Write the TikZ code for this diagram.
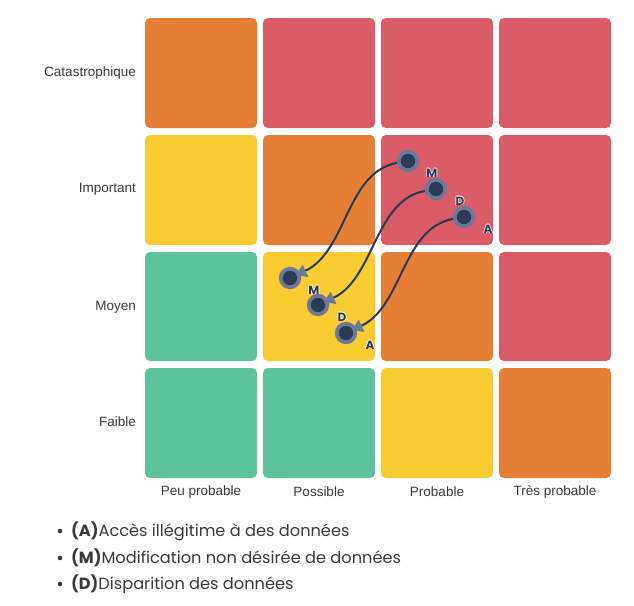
\documentclass[tikz,border=0pt]{standalone}
\usepackage{fontspec}
\setmainfont{Liberation Sans}
\newfontfamily\poppins{Poppins}
\usetikzlibrary{arrows.meta}
\definecolor{rOrange}{HTML}{E47F35}
\definecolor{rRed}{HTML}{DA5C68}
\definecolor{rYellow}{HTML}{F9CC31}
\definecolor{rGreen}{HTML}{5DC39D}
\definecolor{dotDark}{HTML}{2C3B55}
\definecolor{dotRing}{HTML}{6E7898}
\definecolor{axisTxt}{HTML}{3A3A3A}
% letter with a thin white halo
\newcommand\halotxt[1]{\leavevmode
  \rlap{\color{white}\kern-0.7pt#1}\rlap{\color{white}\kern0.7pt#1}%
  \rlap{\color{white}\raisebox{0.7pt}{#1}}\rlap{\color{white}\raisebox{-0.7pt}{#1}}#1}
\tikzset{
  cell/.style={fill=#1, rounded corners=5pt, draw=none},
  ylab/.style={anchor=east, inner sep=0pt, text=axisTxt, font=\fontsize{13.5}{16}\selectfont},
  xlab/.style={anchor=center, inner sep=0pt, text=axisTxt, font=\fontsize{13.5}{16}\selectfont},
  dot/.style={circle, fill=dotDark, draw=dotRing, line width=3.8pt, minimum size=18.5pt, inner sep=0pt},
  dotlab/.style={text=dotDark, font=\poppins\bfseries\fontsize{12}{14}\selectfont, inner sep=0pt},
  link/.style={draw=dotDark, line width=2pt, shorten >=-5pt,
    -{Triangle[length=11pt,width=13pt,color=dotRing]}},
  legend/.style={anchor=west, text=axisTxt, font=\poppins\fontsize{16.2}{19}\selectfont, inner sep=0pt},
}
\begin{document}
\begin{tikzpicture}[x=1pt,y=1pt]
\useasboundingbox[fill=white] (0,0) rectangle (634,-605);

% risk matrix cells, one row per severity level
\foreach \col [count=\ci from 0] in {rOrange,rRed,rRed,rRed}
  \path[cell=\col] ({145+118*\ci},-18) rectangle ++(112,-110);
\foreach \col [count=\ci from 0] in {rYellow,rOrange,rRed,rRed}
  \path[cell=\col] ({145+118*\ci},-135) rectangle ++(112,-110);
\foreach \col [count=\ci from 0] in {rGreen,rYellow,rOrange,rRed}
  \path[cell=\col] ({145+118*\ci},-252) rectangle ++(112,-109);
\foreach \col [count=\ci from 0] in {rGreen,rGreen,rYellow,rOrange}
  \path[cell=\col] ({145+118*\ci},-368) rectangle ++(112,-110);

% axis labels
\node[ylab] (lcat) at (136,-73) {Catastrophique};
\node[ylab] (limp) at (136,-189) {Important};
\node[ylab] (lmoy) at (136,-307) {Moyen};
\node[ylab] (lfai) at (136,-422) {Faible};
\node[xlab] (lpeu) at (201,-492) {Peu probable};
\node[xlab] (lpos) at (319,-492) {Possible};
\node[xlab] (lpro) at (437,-492) {Probable};
\node[xlab] (ltre) at (555,-492) {Très probable};

% risk positions before and after treatment
\node[dot] (m1) at (408,-161) {};
\node[dot] (d1) at (436,-189) {};
\node[dot] (a1) at (464,-217) {};
\node[dot] (m2) at (290,-278) {};
\node[dot] (d2) at (318,-305) {};
\node[dot] (a2) at (346,-333) {};

\foreach \n/\t in {m1/M,d1/D,a1/A,m2/M,d2/D,a2/A}
  \node[dotlab] (\n lab) at ([shift={(24,-12)}]\n.center) {\halotxt{\t}};

\draw[link] (m1) to[out=190,in=25,looseness=0.9] (m2);
\draw[link] (d1) to[out=190,in=25,looseness=0.9] (d2);
\draw[link] (a1) to[out=190,in=25,looseness=0.9] (a2);

% legend
\foreach \y/\k/\t in {531/A/Accès illégitime à des données,
                      558/M/Modification non désirée de données,
                      584/D/Disparition des données}{
  \fill[axisTxt] (60,-\y) circle (2.3pt);
  \node[legend] (leg\k) at (71,-\y) {\textbf{(\k)}\t};
}
\end{tikzpicture}
\end{document}
